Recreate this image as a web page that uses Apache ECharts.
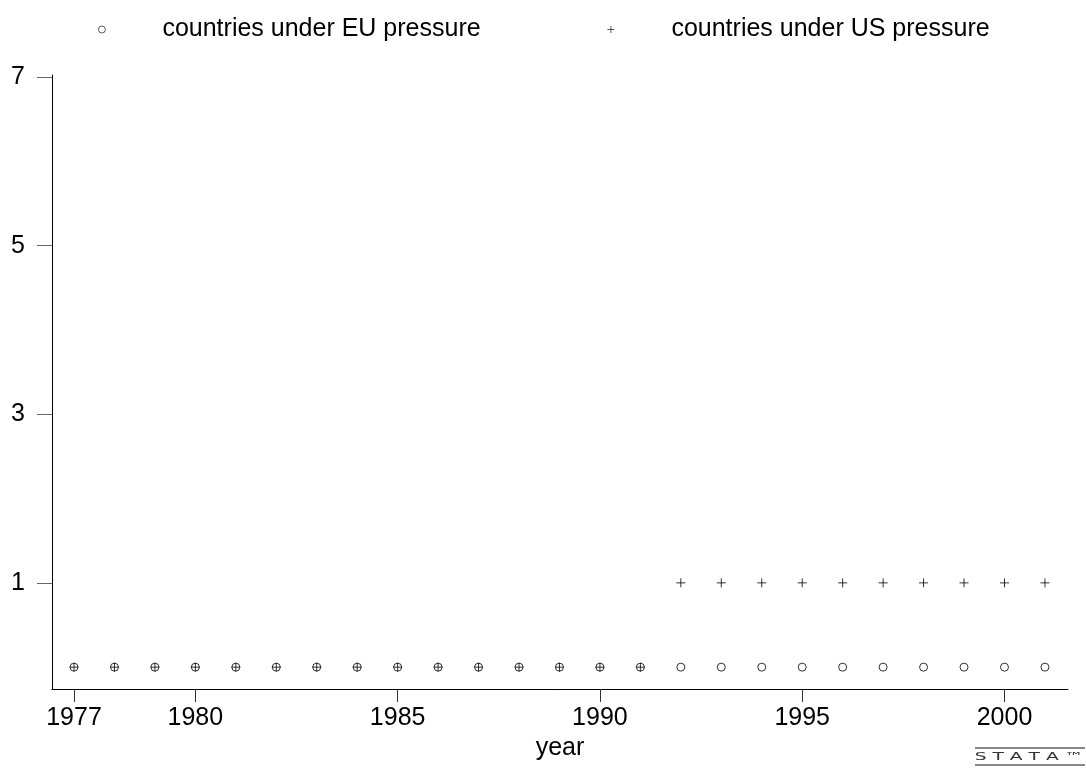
<!DOCTYPE html>
<html>
<head>
<meta charset="utf-8">
<title>EU / US pressure by year</title>
<script src="https://cdn.jsdelivr.net/npm/echarts@6/dist/echarts.min.js"></script>
<style>
  html, body { margin: 0; padding: 0; background: #fff; }
  #chart { width: 1086px; height: 770px; }
</style>
</head>
<body>
<div id="chart"></div>
<script>
(function () {

  'use strict';

  var years = [1977, 1978, 1979, 1980, 1981, 1982, 1983, 1984, 1985, 1986, 1987, 1988, 1989,
    1990, 1991, 1992, 1993, 1994, 1995, 1996, 1997, 1998, 1999, 2000, 2001];
  var euValues = [0, 0, 0, 0, 0, 0, 0, 0, 0, 0, 0, 0, 0,
    0, 0, 0, 0, 0, 0, 0, 0, 0, 0, 0, 0];
  var usValues = [0, 0, 0, 0, 0, 0, 0, 0, 0, 0, 0, 0, 0,
    0, 0, 1, 1, 1, 1, 1, 1, 1, 1, 1, 1];
  var xTicks = [1977, 1980, 1985, 1990, 1995, 2000];
  var yTicks = [1, 3, 5, 7];

  var FONT = '"Liberation Sans", Arial, sans-serif';
  var plusPath = 'path://M0,4L8,4M4,0L4,8';

  function pairs(vals) {
    return years.map(function (y, i) { return [y, vals[i]]; });
  }

  function legendFor(name, left) {
    return {
      data: [name],
      left: left,
      top: 17,
      padding: 0,
      itemWidth: 7,
      itemHeight: 7,
      selectedMode: false,
      itemStyle: { color: 'transparent', borderColor: '#000', borderWidth: 0.8 },
      formatter: function (n) { return '{t|' + n + '}'; },
      textStyle: {
        rich: {
          t: { padding: [0, 0, 0, 52], fontSize: 25, color: '#000', fontFamily: FONT }
        }
      }
    };
  }

  var chart = echarts.init(document.getElementById('chart'));

  var option = {
    backgroundColor: '#fff',
    animation: false,
    legend: [
      legendFor('countries under EU pressure', 98),
      legendFor('countries under US pressure', 607)
    ],
    grid: { left: 52, right: 18, top: 75, bottom: 81, containLabel: false },
    xAxis: {
      type: 'value',
      min: 1976.456,
      max: 2001.57,
      name: 'year',
      nameLocation: 'middle',
      nameGap: 44,
      nameTextStyle: { fontSize: 25, color: '#000', fontFamily: FONT },
      splitLine: { show: false },
      axisLine: { show: true, onZero: false, lineStyle: { color: '#000', width: 1 } },
      axisTick: { show: true, length: 13, customValues: xTicks, lineStyle: { color: '#333' } },
      axisLabel: {
        customValues: xTicks, margin: 17, fontSize: 25, color: '#000', fontFamily: FONT,
        formatter: function (v) { return String(v); }
      }
    },
    yAxis: {
      type: 'value',
      min: -0.259,
      max: 7.025,
      splitLine: { show: false },
      axisLine: { show: true, onZero: false, lineStyle: { color: '#000', width: 1 } },
      axisTick: { show: true, length: 15, customValues: yTicks, lineStyle: { color: '#666' } },
      axisLabel: {
        customValues: yTicks, margin: 27, fontSize: 25, color: '#000', fontFamily: FONT,
        padding: [4, 0, 0, 0]
      }
    },
    series: [
      {
        name: 'countries under EU pressure',
        type: 'scatter',
        symbol: 'circle',
        symbolSize: 8,
        itemStyle: { color: 'transparent', borderColor: '#000', borderWidth: 1 },
        data: pairs(euValues)
      },
      {
        name: 'countries under US pressure',
        type: 'scatter',
        symbol: plusPath,
        symbolSize: 9,
        itemStyle: { color: 'transparent', borderColor: '#000', borderWidth: 1 },
        data: pairs(usValues)
      }
    ],
    graphic: [
      { type: 'line', shape: { x1: 975, y1: 748, x2: 1085, y2: 748 }, style: { stroke: '#888', lineWidth: 2 } },
      { type: 'line', shape: { x1: 975, y1: 765, x2: 1085, y2: 765 }, style: { stroke: '#888', lineWidth: 2 } },
      {
        type: 'text', x: 1029, y: 757, scaleX: 1.7,
        style: { text: 'S T A T A \u2122', fontSize: 11, fontFamily: '"DejaVu Sans"', fill: '#333', align: 'center', verticalAlign: 'middle' }
      }
    ]
  };

  chart.setOption(option);

})();
</script>
</body>
</html>
